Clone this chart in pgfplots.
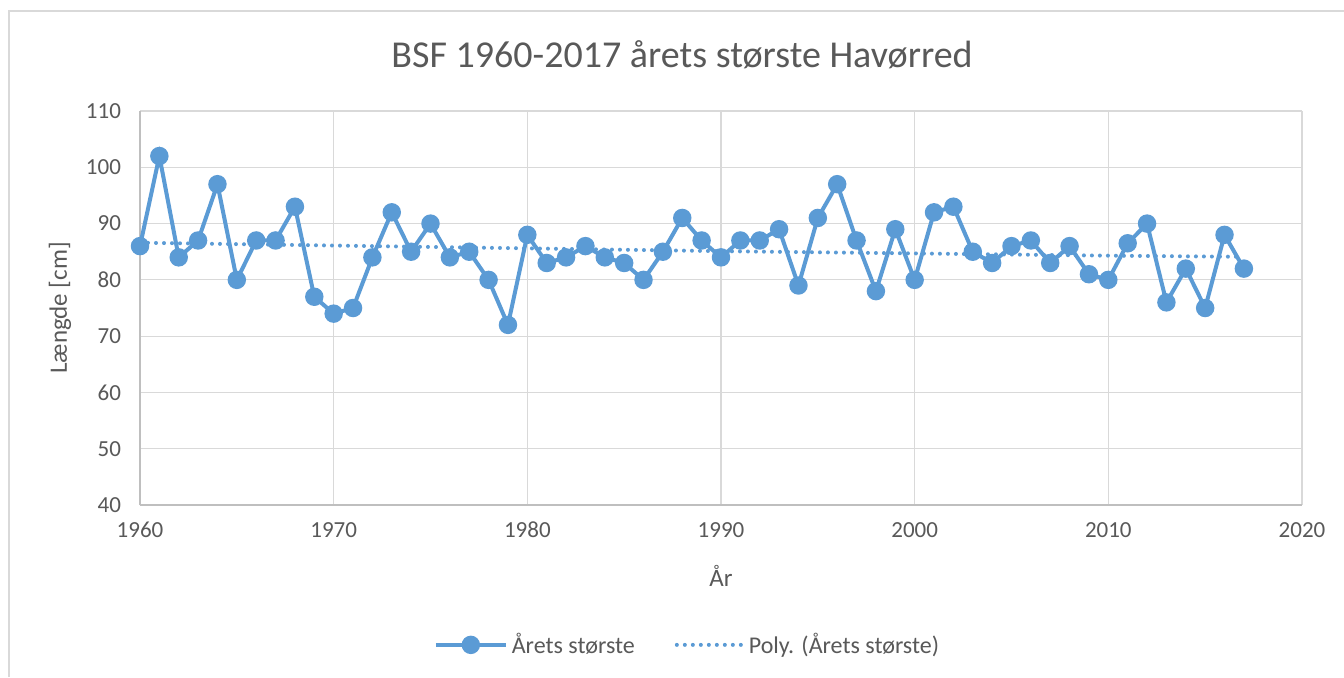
\documentclass[border=0pt]{standalone}
\usepackage{pgfplots}
\pgfplotsset{compat=1.18}
\usepackage{fontspec}
\setmainfont{Carlito}
\definecolor{ser}{HTML}{5B9BD5}
\definecolor{txt}{HTML}{595959}
\definecolor{grd}{HTML}{D9D9D9}
\definecolor{axl}{HTML}{BFBFBF}
\begin{document}
\begin{tikzpicture}[x=1pt,y=1pt]
\useasboundingbox[fill=white] (0,0) rectangle (672,338.5);
\draw[grd, line width=1.2pt] (4.5,0) -- (4.5,333) -- (672,333);
\node[txt, font=\fontsize{19}{22}\selectfont] at (341,311) {BSF 1960-2017 årets største Havørred};
\begin{axis}[
  at={(70pt,86pt)}, anchor=origin,
  scale only axis, width=581pt, height=197pt,
  xmin=1960, xmax=2020, ymin=40, ymax=110,
  xtick={1960,1970,...,2020}, ytick={40,50,...,110},
  /pgf/number format/assume math mode=true,
  xticklabel style={/pgf/number format/1000 sep={}, yshift=-5pt},
  yticklabel style={xshift=-6pt},
  tick label style={font=\fontsize{11.5}{13}\selectfont, text=txt},
  xmajorgrids, ymajorgrids,
  grid style={grd, line width=0.6pt},
  axis line style={axl, line width=0.6pt},
  axis x line*=bottom, axis y line*=left,
  x axis line style={-}, y axis line style={-},
  major tick length=0pt,
  xlabel={År}, ylabel={Længde [cm]},
  every axis x label/.style={at={(rel axis cs:0.5,0)}, yshift=-35.5pt, anchor=center,
    font=\fontsize{12.5}{14}\selectfont, text=txt},
  every axis y label/.style={at={(rel axis cs:0,0.5)}, xshift=-40pt, rotate=90, anchor=center,
    font=\fontsize{12.5}{14}\selectfont, text=txt},
  clip=false,
  legend columns=2,
  legend style={at={(0.472,-0.355)}, anchor=center, draw=none, fill=none,
    font=\fontsize{12}{14}\selectfont, text=txt,
    /tikz/every even column/.append style={column sep=18pt}},
  legend cell align=left,
]
\addplot[ser, line width=2pt, mark=*, mark size=3.6pt, mark options={solid, fill=ser, draw=ser},
  legend image code/.code={\draw[ser, line width=2pt] (0pt,0pt) -- (35pt,0pt); \fill[ser] (17.5pt,0pt) circle (3.6pt);}] coordinates {
(1960,86)(1961,102)(1962,84)(1963,87)(1964,97)(1965,80)(1966,87)(1967,87)(1968,93)(1969,77)
(1970,74)(1971,75)(1972,84)(1973,92)(1974,85)(1975,90)(1976,84)(1977,85)(1978,80)(1979,72)
(1980,88)(1981,83)(1982,84)(1983,86)(1984,84)(1985,83)(1986,80)(1987,85)(1988,91)(1989,87)
(1990,84)(1991,87)(1992,87)(1993,89)(1994,79)(1995,91)(1996,97)(1997,87)(1998,78)(1999,89)
(2000,80)(2001,92)(2002,93)(2003,85)(2004,83)(2005,86)(2006,87)(2007,83)(2008,86)(2009,81)
(2010,80)(2011,86.5)(2012,90)(2013,76)(2014,82)(2015,75)(2016,88)(2017,82)
};
\addlegendentry{Årets største}
\addplot[ser, line width=2pt, dash pattern=on 0pt off 4pt, line cap=round, no marks,
  legend image code/.code={\draw[ser, line width=2pt, dash pattern=on 0pt off 4pt, line cap=round] (1pt,0pt) -- (34pt,0pt);}] coordinates {
(1960,86.6)(1970,86.1)(1980,85.6)(1990,85.1)(2000,84.7)(2010,84.3)(2017,84.1)
};
\addlegendentry{Poly. (Årets største)}
\end{axis}
\end{tikzpicture}
\end{document}
